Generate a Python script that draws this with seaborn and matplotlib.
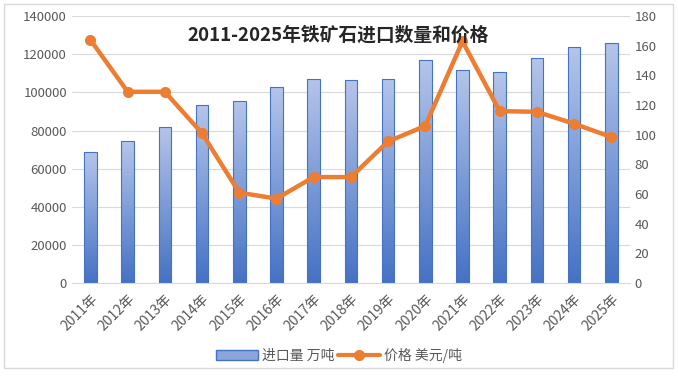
import numpy as np
import pandas as pd
import seaborn as sns
import matplotlib.pyplot as plt
from matplotlib.patches import Rectangle, Patch
from matplotlib.lines import Line2D
from matplotlib.colors import LinearSegmentedColormap

sns.set_style('white')
plt.rcParams['font.family'] = ['Noto Sans CJK SC', 'DejaVu Sans']

years = [f'{y}年' for y in range(2011, 2026)]
volume = [68600, 74300, 82100, 93200, 95300, 102600, 107300, 106400,
          106800, 116900, 112000, 110600, 117900, 123700, 125800]
price = [164, 129, 129, 101, 61, 57, 71.5, 71.5, 95.5, 106, 163, 116, 115.5, 107.5, 98.5]

df = pd.DataFrame({'year': years, 'volume': volume, 'price': price})

fig = plt.figure(figsize=(6.78, 3.76), dpi=100)
ax = fig.add_axes([0.106, 0.247, 0.823, 0.71])

sns.barplot(data=df, x='year', y='volume', ax=ax, width=0.34,
            color='#4472c4', edgecolor='#4472c4', linewidth=0.8)

# gradient fill on bars, Excel style
cmap = LinearSegmentedColormap.from_list('g', ['#4472c4', '#b5c5ea'])
grad = np.linspace(0, 1, 256).reshape(-1, 1)
for p in ax.patches:
    x0, y0 = p.get_x(), p.get_y()
    w, h = p.get_width(), p.get_height()
    im = ax.imshow(grad, cmap=cmap, origin='lower', aspect='auto',
                   extent=[x0, x0 + w, y0, y0 + h], zorder=p.get_zorder())
    im.set_clip_path(p)
    p.set_facecolor('none')
    p.set_zorder(3)

ax.set_xlim(-0.5, len(years) - 0.5)
ax.set_ylim(0, 140000)
ax.set_yticks(range(0, 140001, 20000))
ax.grid(axis='y', color='#d9d9d9', linewidth=0.8)
ax.set_axisbelow(True)
ax.set_xlabel('')
ax.set_ylabel('')
for s in ['top', 'right', 'left']:
    ax.spines[s].set_visible(False)
ax.spines['bottom'].set_color('#d9d9d9')
ax.tick_params(axis='y', colors='#595959', labelsize=9.5, length=0)
ax.set_xticks(range(len(years)))
ax.set_xticklabels(years, rotation=45, ha='right', rotation_mode='anchor',
                   fontsize=10, color='#595959')
ax.tick_params(axis='x', length=0, pad=6)
# minor ticks between categories
ax.set_xticks(np.arange(-0.5, len(years), 1), minor=True)
ax.tick_params(axis='x', which='minor', length=4, color='#d9d9d9', direction='in')

ax2 = ax.twinx()
sns.lineplot(data=df, x='year', y='price', ax=ax2, color='#ed7d31',
             linewidth=3.2, marker='o', markersize=8, markeredgewidth=0, sort=False)
ax2.set_ylim(0, 180)
ax2.set_yticks(range(0, 181, 20))
ax2.set_ylabel('')
for s in ['top', 'right', 'left', 'bottom']:
    ax2.spines[s].set_visible(False)
ax2.tick_params(axis='y', colors='#595959', labelsize=9.5, length=0)

fig.text(0.498, 0.907, '2011-2025年铁矿石进口数量和价格',
         ha='center', va='center', fontsize=13.5, fontweight='bold', color='#262626')

handles = [Patch(facecolor='#8aa4dc', edgecolor='#4472c4'),
           Line2D([0], [0], color='#ed7d31', lw=3, marker='o', markersize=7)]
fig.legend(handles, ['进口量 万吨', '价格 美元/吨'], loc='center',
           bbox_to_anchor=(0.5, 0.055), ncol=2, frameon=False, fontsize=10,
           handlelength=3, columnspacing=0.3, handletextpad=0.3,
           labelcolor='#595959')

fig.patches.append(Rectangle((0.006, 0.02), 0.986, 0.97, transform=fig.transFigure,
                             fill=False, edgecolor='#d9d9d9', linewidth=1))

fig.savefig('out.png', dpi=100)
